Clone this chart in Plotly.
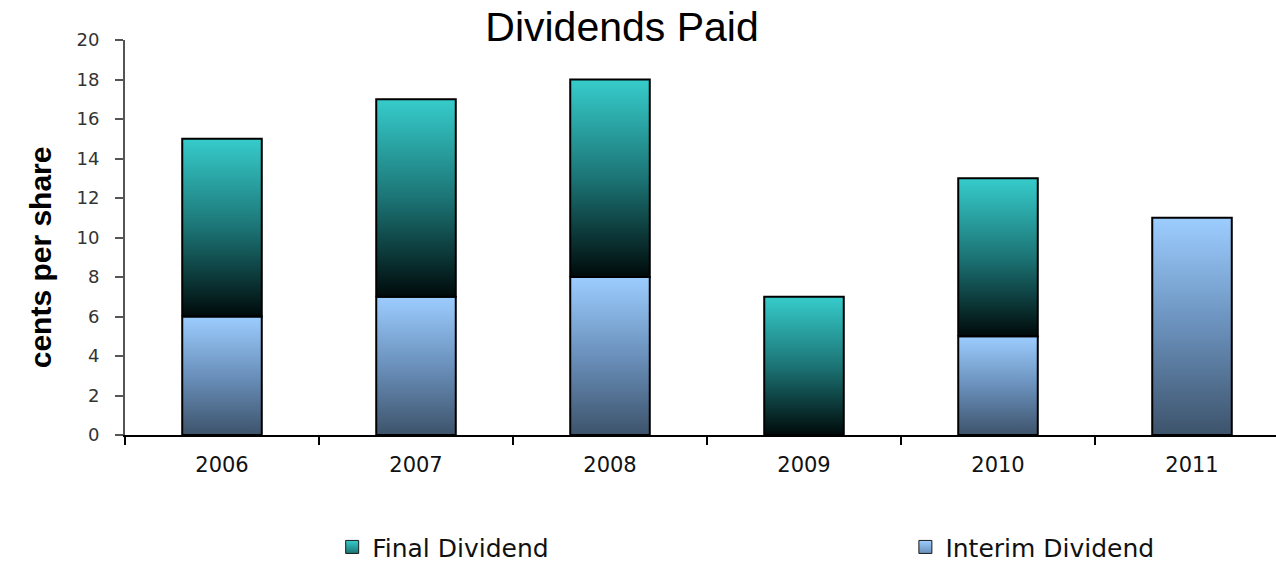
import plotly.graph_objects as go

# Dividend history, cents per share
years = ["2006", "2007", "2008", "2009", "2010", "2011"]
interim_dividend = [6, 7, 8, 0, 5, 11]
final_dividend = [9, 10, 10, 7, 8, 0]

BAR_WIDTH = 0.41
INTERIM_SCALE = [[0.0, "#3d536b"], [0.5, "#6a90bb"], [1.0, "#9ccdff"]]
FINAL_SCALE = [[0.0, "#000a0a"], [0.5, "#1c7475"], [1.0, "#36cccb"]]
TEXT_FONT = "DejaVu Sans, Verdana, sans-serif"

fig = go.Figure()


def add_segment(i, base, value, scale):
    """One stacked bar segment drawn as a filled rectangle with a vertical gradient."""
    left, right = i - BAR_WIDTH / 2, i + BAR_WIDTH / 2
    top = base + value
    fig.add_trace(go.Scatter(
        x=[left, right, right, left, left],
        y=[base, base, top, top, base],
        mode="lines",
        fill="toself",
        fillgradient=dict(type="vertical", colorscale=scale),
        line=dict(color="#000000", width=2),
        showlegend=False,
        hoverinfo="skip",
    ))


for i in range(len(years)):
    if interim_dividend[i] > 0:
        add_segment(i, 0, interim_dividend[i], INTERIM_SCALE)
for i in range(len(years)):
    if final_dividend[i] > 0:
        add_segment(i, interim_dividend[i], final_dividend[i], FINAL_SCALE)

# Legend swatches: small gradient squares, one legend box per series
for name, scale, legend_id in [("Final Dividend", FINAL_SCALE, "legend"),
                               ("Interim Dividend", INTERIM_SCALE, "legend2")]:
    fig.add_trace(go.Scatter(
        x=[None], y=[None],
        mode="markers",
        name=name,
        legend=legend_id,
        marker=dict(symbol="square", size=13, color=scale[-1][1],
                    gradient=dict(type="vertical", color=scale[1][1]),
                    line=dict(color="#1a1a1a", width=1)),
        hoverinfo="skip",
    ))

legend_common = dict(
    orientation="h",
    yanchor="middle",
    y=-0.284,
    xanchor="left",
    font=dict(family=TEXT_FONT, size=25, color="#111111"),
    bgcolor="rgba(0,0,0,0)",
)

fig.update_layout(
    width=1276,
    height=563,
    margin=dict(l=125, r=0, t=40, b=128, autoexpand=False),
    paper_bgcolor="white",
    plot_bgcolor="white",
    title=dict(
        text="Dividends Paid",
        x=0.4875, xref="container", xanchor="center",
        y=0.953, yref="container", yanchor="middle",
        font=dict(family="Liberation Sans, Arial, sans-serif", size=41, color="#000000"),
    ),
    xaxis=dict(
        range=[-0.5, 5.433],
        tickmode="array",
        tickvals=list(range(len(years))),
        ticktext=years,
        ticks="",
        minor=dict(tickmode="linear", tick0=-0.5, dtick=1, ticks="outside",
                   ticklen=8, tickwidth=1.5, tickcolor="#000000"),
        showgrid=False,
        zeroline=False,
        showline=True,
        linecolor="#000000",
        linewidth=1.5,
        tickfont=dict(family=TEXT_FONT, size=21, color="#111111"),
        ticklabelstandoff=10,
        fixedrange=True,
    ),
    yaxis=dict(
        range=[0, 20],
        tickmode="linear",
        tick0=0,
        dtick=2,
        ticks="outside",
        ticklen=8,
        tickwidth=1.5,
        tickcolor="#555555",
        showgrid=False,
        zeroline=False,
        showline=True,
        linecolor="#555555",
        linewidth=2,
        tickfont=dict(family=TEXT_FONT, size=18, color="#333333"),
        ticklabelstandoff=12,
        fixedrange=True,
    ),
    legend=dict(legend_common, x=0.18),
    legend2=dict(legend_common, x=0.678),
    annotations=[dict(
        text="cents per share",
        x=-0.0738, xref="paper", xanchor="center",
        y=0.45, yref="paper", yanchor="middle",
        textangle=-90,
        showarrow=False,
        font=dict(family="Liberation Sans, Arial, sans-serif", size=30, color="#000000", weight="bold"),
    )],
)

fig.write_html("out.html")
